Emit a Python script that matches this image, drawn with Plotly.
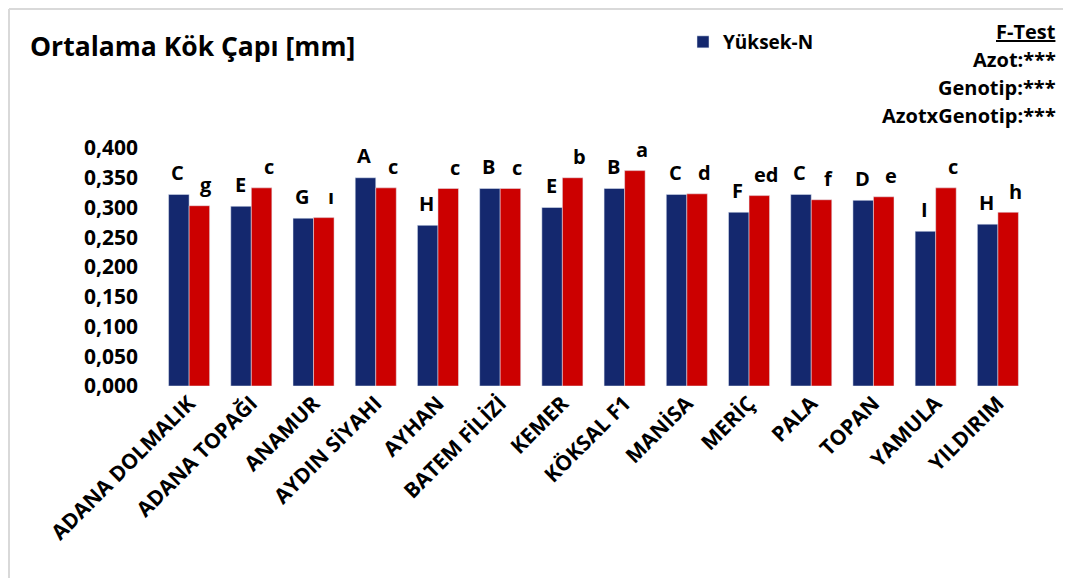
import plotly.graph_objects as go

categories = ["ADANA DOLMALIK", "ADANA TOPAĞI", "ANAMUR", "AYDIN SİYAHI", "AYHAN",
              "BATEM FİLİZİ", "KEMER", "KÖKSAL F1", "MANİSA", "MERİÇ", "PALA",
              "TOPAN", "YAMULA", "YILDIRIM"]
high_n = [0.322, 0.302, 0.282, 0.350, 0.270, 0.332, 0.300, 0.332, 0.322, 0.292,
          0.322, 0.312, 0.260, 0.272]
second_n = [0.303, 0.333, 0.283, 0.333, 0.332, 0.332, 0.350, 0.362, 0.323, 0.320,
            0.313, 0.318, 0.333, 0.292]
high_letters = ["C", "E", "G", "A", "H", "B", "E", "B", "C", "F", "C", "D", "I", "H"]
second_letters = ["g", "c", "ı", "c", "c", "c", "b", "a", "d", "ed", "f", "e", "c", "h"]
y_ticks = [0.0, 0.05, 0.10, 0.15, 0.20, 0.25, 0.30, 0.35, 0.40]
ftest_lines = ["<u>F-Test</u>", "Azot:***", "Genotip:***", "AzotxGenotip:***"]

# page offset of the figure (default body margin of the HTML page)
OFF = 8
W, H = 1071 - OFF, 578 - OFF
ML = 158 - OFF
MR = W - (1029 - OFF)
MT = 148 - OFF
MB = H - (386 - OFF)
PW = W - ML - MR
PH = H - MT - MB


def px(x_page):
    return (x_page - OFF - ML) / PW


def py(y_page):
    return (H - MB - (y_page - OFF)) / PH


FONT = "Open Sans"
BLUE = "#14286e"
RED = "#cc0000"
BARGAP = 0.34
bar_px = (PW / len(categories)) * (1 - BARGAP) / 2

fig = go.Figure()
fig.add_trace(go.Bar(x=categories, y=high_n, name="Yüksek-N", marker_color=BLUE,
                     cliponaxis=False))
fig.add_trace(go.Bar(x=categories, y=second_n, name="Düşük-N", marker_color=RED,
                     showlegend=False, cliponaxis=False))

for cat, v, t in zip(categories, high_n, high_letters):
    fig.add_annotation(x=cat, y=v, text=t, showarrow=False, xshift=-bar_px / 2 - 1,
                       yshift=22, yanchor="middle",
                       font=dict(family=FONT, size=20, color="black", weight="bold"))
for cat, v, t in zip(categories, second_n, second_letters):
    fig.add_annotation(x=cat, y=v, text=t, showarrow=False, xshift=bar_px / 2 + 7,
                       yshift=21, yanchor="middle",
                       font=dict(family=FONT, size=20, color="black", weight="bold"))

fig.update_layout(
    width=W, height=H,
    margin=dict(l=ML, r=MR, t=MT, b=MB),
    paper_bgcolor="white", plot_bgcolor="white",
    separators=",.",
    barmode="group", bargap=BARGAP, bargroupgap=0.0,
    font=dict(family=FONT, color="black"),
    title=dict(text="<b>Ortalama Kök Çapı [mm]</b>", x=(30 - OFF) / W, xref="container",
               xanchor="left", y=1 - (47 - OFF) / H, yref="container", yanchor="middle",
               font=dict(family=FONT, size=26.5, color="black")),
    showlegend=True,
    legend=dict(x=px(683), y=py(42), xanchor="left", yanchor="middle",
                font=dict(family=FONT, size=19, color="black", weight="bold"),
                bgcolor="rgba(0,0,0,0)", itemwidth=30, traceorder="normal"),
    xaxis=dict(tickangle=-45, showgrid=False, showline=False, ticks="",
               tickfont=dict(family=FONT, size=21, color="black", weight="bold")),
    yaxis=dict(range=[0, 0.4], tickvals=y_ticks, tickformat=".3f", showgrid=False,
               zeroline=False, showline=False, ticks="", ticklabelstandoff=19,
               tickfont=dict(family=FONT, size=21, color="black", weight="bold")),
)

for i, line in enumerate(ftest_lines):
    fig.add_annotation(text=line, xref="paper", yref="paper",
                       x=px(1058), y=py(32 + i * 27.7), xanchor="right", yanchor="middle",
                       showarrow=False,
                       font=dict(family=FONT, size=20, color="black", weight="bold"))

# chart-area border (top and left edges visible in the reference)
fig.add_shape(type="line", xref="paper", yref="paper", x0=px(9), x1=px(1080),
              y0=py(9), y1=py(9), line=dict(color="#d9d9d9", width=2))
fig.add_shape(type="line", xref="paper", yref="paper", x0=px(9), x1=px(9),
              y0=py(9), y1=py(590), line=dict(color="#d9d9d9", width=2))

fig.write_html("out.html")
